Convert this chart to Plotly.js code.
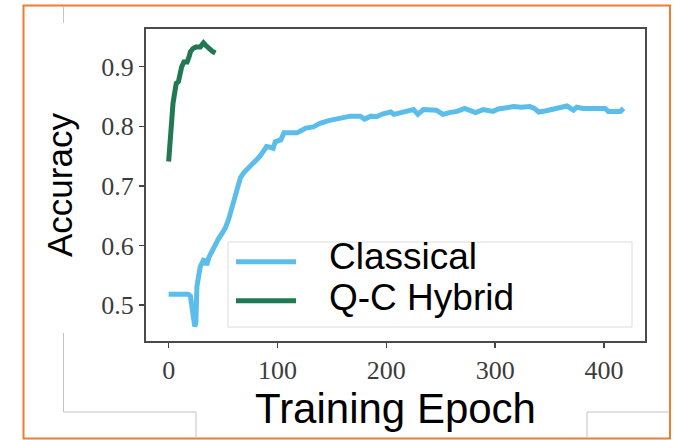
<!DOCTYPE html>
<html>
<head>
<meta charset="utf-8">
<script src="https://cdn.plot.ly/plotly-3.0.1.min.js"></script>
<style>
  html, body { margin: 0; padding: 0; background: #ffffff; }
  #chart { width: 679px; height: 440px; }
</style>
</head>
<body>
<div id="chart"></div>
<script>
// ---- data ----
const seriesNames = ["Classical", "Q-C Hybrid"];
const seriesColors = ["#5bbde9", "#217852"];

const classicalEpoch = [0, 18, 20, 22, 24, 25, 26, 29, 32, 34, 35, 37, 40, 43, 46, 49, 52, 55, 57, 60, 62, 64, 66, 69, 73, 76, 80, 83, 86, 90, 93, 96, 98, 103, 106, 112, 118, 122, 126, 133, 139, 148, 158, 167, 176, 180, 186, 191, 197, 204, 207, 213, 220, 225, 229, 234, 246, 252, 258, 265, 272, 277, 282, 289, 298, 303, 308, 317, 324, 332, 336, 340, 347, 354, 360, 366, 372, 375, 381, 387, 395, 401, 404, 410, 415, 418];
const classicalAcc = [0.518, 0.518, 0.515, 0.490, 0.464, 0.470, 0.531, 0.564, 0.575, 0.574, 0.567, 0.580, 0.592, 0.600, 0.612, 0.620, 0.629, 0.643, 0.657, 0.676, 0.691, 0.704, 0.714, 0.722, 0.729, 0.735, 0.740, 0.748, 0.755, 0.766, 0.765, 0.763, 0.774, 0.777, 0.789, 0.789, 0.789, 0.793, 0.797, 0.799, 0.805, 0.810, 0.813, 0.817, 0.817, 0.812, 0.817, 0.816, 0.821, 0.824, 0.820, 0.822, 0.825, 0.828, 0.820, 0.828, 0.827, 0.820, 0.823, 0.825, 0.830, 0.826, 0.823, 0.828, 0.825, 0.829, 0.830, 0.833, 0.832, 0.833, 0.830, 0.824, 0.826, 0.829, 0.830, 0.834, 0.827, 0.832, 0.830, 0.830, 0.830, 0.830, 0.825, 0.825, 0.825, 0.830];

const hybridEpoch = [0, 1, 2, 3, 4, 5, 6, 7, 9, 10, 12, 14, 17, 19, 20, 22, 25, 29, 31, 32, 34, 36, 38, 40, 43];
const hybridAcc = [0.741, 0.775, 0.795, 0.820, 0.838, 0.850, 0.866, 0.872, 0.875, 0.885, 0.900, 0.908, 0.908, 0.918, 0.925, 0.930, 0.933, 0.933, 0.937, 0.940, 0.936, 0.932, 0.928, 0.926, 0.923];

const xTickVals = [0, 100, 200, 300, 400];
const yTickVals = [0.5, 0.6, 0.7, 0.8, 0.9];
const yTickText = ["0.5", "0.6", "0.7", "0.8", "0.9"];
const xTitle = "Training Epoch";
const yTitle = "Accuracy";

// ---- layout helpers (pixel -> paper) ----
const W = 679, H = 440;
const M = { l: 146, r: 34, t: 29, b: 99 };
const PW = W - M.l - M.r, PH = H - M.t - M.b;
const px = x => (x - M.l) / PW;
const py = y => 1 - (y - M.t) / PH;

function seg(x0, y0, x1, y1, color, width) {
  return { type: "line", xref: "paper", yref: "paper",
    x0: px(x0), y0: py(y0), x1: px(x1), y1: py(y1),
    line: { color: color, width: width }, layer: "above" };
}

const traces = [
  { x: classicalEpoch, y: classicalAcc, name: seriesNames[0], type: "scatter", mode: "lines",
    line: { color: seriesColors[0], width: 5 }, showlegend: false },
  { x: hybridEpoch, y: hybridAcc, name: seriesNames[1], type: "scatter", mode: "lines",
    line: { color: seriesColors[1], width: 5 }, showlegend: false }
];

const gray = "#c4c4c4";
const shapes = [
  // outer orange frame
  { type: "rect", xref: "paper", yref: "paper", x0: px(23.5), y0: py(5.5), x1: px(670), y1: py(438.5),
    line: { color: "#ed7d31", width: 2 }, fillcolor: "rgba(0,0,0,0)", layer: "below" },
  // faint slide guide lines
  seg(63.5, 6, 63.5, 23, gray, 1),
  seg(63.5, 333, 63.5, 412, gray, 1),
  seg(63.5, 412, 196, 412, gray, 1),
  seg(196, 412, 196, 438, gray, 1),
  seg(587, 412, 669, 412, gray, 1),
  seg(587, 412, 587, 438, gray, 1),
  // legend box
  { type: "rect", xref: "paper", yref: "paper", x0: px(228), y0: py(242), x1: px(632), y1: py(327),
    line: { color: "#dcdcdc", width: 1 }, fillcolor: "rgba(255,255,255,0.9)", layer: "above" },
  seg(236, 261.7, 296, 261.7, seriesColors[0], 5),
  seg(236, 300.7, 296, 300.7, seriesColors[1], 5)
];

const annotations = [
  { xref: "paper", yref: "paper", x: px(327), y: py(256), xanchor: "left", yanchor: "middle",
    text: seriesNames[0], showarrow: false, font: { family: "Liberation Sans, Arial, sans-serif", size: 37, color: "#000" } },
  { xref: "paper", yref: "paper", x: px(327), y: py(297), xanchor: "left", yanchor: "middle",
    text: seriesNames[1], showarrow: false, font: { family: "Liberation Sans, Arial, sans-serif", size: 37, color: "#000" } }
];

const tickFont = { family: "Liberation Serif, 'DejaVu Serif', serif", size: 26, color: "#3c3c3c" };

const layout = {
  width: W, height: H,
  margin: M,
  paper_bgcolor: "#ffffff", plot_bgcolor: "#ffffff",
  showlegend: false,
  xaxis: {
    range: [-20.8, 437.7], tickvals: xTickVals, ticks: "outside", ticklen: 5, tickwidth: 1.5, tickcolor: "#444",
    showgrid: false, zeroline: false, showline: true, mirror: true, linecolor: "#4a4a4a", linewidth: 2,
    tickfont: tickFont,
    title: { text: xTitle, font: { family: "Liberation Sans, Arial, sans-serif", size: 42, color: "#000" }, standoff: 3 }
  },
  yaxis: {
    range: [0.4396, 0.9633], tickvals: yTickVals, ticktext: yTickText, ticks: "outside", ticklen: 5, tickwidth: 1.5, tickcolor: "#444",
    showgrid: false, zeroline: false, showline: true, mirror: true, linecolor: "#4a4a4a", linewidth: 2,
    tickfont: tickFont,
    title: { text: yTitle, font: { family: "Liberation Sans, Arial, sans-serif", size: 35, color: "#000" }, standoff: 18 }
  },
  shapes: shapes,
  annotations: annotations
};

Plotly.newPlot("chart", traces, layout, { staticPlot: true, displayModeBar: false });
</script>
</body>
</html>
